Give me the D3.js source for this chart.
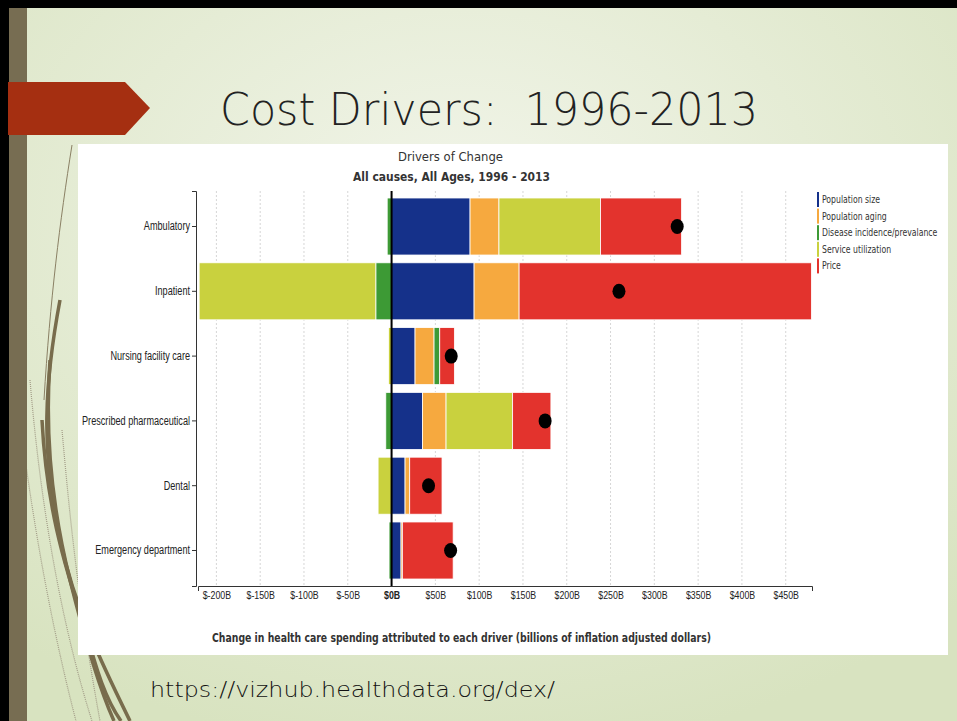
<!DOCTYPE html>
<html>
<head>
<meta charset="utf-8">
<script src="https://cdn.jsdelivr.net/npm/d3@7"></script>
<style>
body { margin: 0; }
</style>
</head>
<body>
<svg width="957" height="721"></svg>
<script>
// values, billions of inflation adjusted dollars
const categories = ['Ambulatory', 'Inpatient', 'Nursing facility care', 'Prescribed pharmaceutical', 'Dental', 'Emergency department']
const drivers = ['Population size', 'Population aging', 'Disease incidence/prevalance', 'Service utilization', 'Price']
const populationSize = [89.6, 94.2, 26.8, 35.2, 15.4, 10.8]
const populationAging = [33, 51.4, 21.7, 27, 5.3, 1.5]
const diseaseIncidence = [-5, -18, 6.5, -6.6, 0, -2.9]
const serviceUtilization = [116, -201.7, -3.6, 76, -15.4, 0]
const price = [92.5, 333.7, 16.7, 43.7, 36.9, 58]
const xTicks = [-200, -150, -100, -50, 0, 50, 100, 150, 200, 250, 300, 350, 400, 450]
const colors = ['#15318a', '#f6a93f', '#3d9a35', '#c9d13e', '#e3332d']

const seriesValues = [populationSize, populationAging, diseaseIncidence, serviceUtilization, price]
const rows = categories.map((c, i) => {
    const row = { category: c }
    drivers.forEach((k, j) => { row[k] = seriesValues[j][i] })
    row.net = d3.sum(drivers, k => row[k])
    return row
})

const svg = d3.select('svg')
const w = +svg.attr('width'), h = +svg.attr('height')

// squeeze text horizontally, the source screenshot is narrower than it is tall
const squeeze = (sel, f) => sel.each(function () {
    const len = this.getComputedTextLength()
    d3.select(this).attr('textLength', len * f).attr('lengthAdjust', 'spacingAndGlyphs')
})

// ---- slide background ----
const defs = svg.append('defs')
const grad = defs.append('radialGradient')
    .attr('id', 'bg').attr('cx', '48%').attr('cy', '30%').attr('r', '75%')
grad.append('stop').attr('offset', '0%').attr('stop-color', '#f2f5ea')
grad.append('stop').attr('offset', '100%').attr('stop-color', '#d8e3c0')

svg.append('rect').attr('width', w).attr('height', h).attr('fill', 'url(#bg)')

// decorative curves down the left side
const curves = svg.append('g').attr('fill', 'none')
curves.selectAll('path.thick')
    .data([
        'M60,300 C45,380 40,450 60,540 C75,610 105,670 130,721',
        'M50,360 C45,430 50,500 70,580 C85,640 100,690 114,721',
        'M42,420 C46,500 62,560 86,630 C96,670 106,700 121,721'
    ])
    .enter().append('path')
    .attr('class', 'thick')
    .attr('d', d => d)
    .attr('stroke', '#786c4c')
    .attr('stroke-width', 3.5)
curves.append('path')
    .attr('d', 'M72,145 C60,220 50,300 44,400')
    .attr('stroke', '#8a8064').attr('stroke-width', 1)
curves.selectAll('path.dots')
    .data([
        'M30,380 C40,500 60,620 92,721',
        'M20,420 C35,540 55,640 76,721',
        'M62,430 C70,520 78,600 100,721'
    ])
    .enter().append('path')
    .attr('class', 'dots')
    .attr('d', d => d)
    .attr('stroke', '#a39d88').attr('stroke-width', 1.2)
    .attr('stroke-dasharray', '1,1')

// frame
svg.append('rect').attr('x', 9).attr('y', 8).attr('width', 18).attr('height', h - 8).attr('fill', '#776d52')
svg.append('rect').attr('x', 0).attr('y', 0).attr('width', w).attr('height', 8).attr('fill', '#000')
svg.append('rect').attr('x', 0).attr('y', 0).attr('width', 9).attr('height', h).attr('fill', '#000')

// red arrow
svg.append('path')
    .attr('d', 'M8,82 H125 L150,108 L125,135 H8 Z')
    .attr('fill', '#a52f11')

const slideFont = '"DejaVu Sans", sans-serif'
svg.append('text')
    .attr('x', 220).attr('y', 125)
    .attr('textLength', 538).attr('lengthAdjust', 'spacingAndGlyphs')
    .style('white-space', 'pre')
    .style('font-family', slideFont).style('font-weight', 200)
    .style('font-size', '44px').attr('fill', '#222')
    .text('Cost Drivers:  1996-2013')

svg.append('text')
    .attr('x', 150).attr('y', 697)
    .attr('textLength', 405).attr('lengthAdjust', 'spacingAndGlyphs')
    .style('font-family', slideFont).style('font-weight', 200)
    .style('font-size', '21px').attr('fill', '#111')
    .text('https://vizhub.healthdata.org/dex/')

// ---- chart panel ----
svg.append('rect')
    .attr('x', 78).attr('y', 144).attr('width', 870).attr('height', 511)
    .attr('fill', '#fff')

const chart = svg.append('g')
const yTop = 191, yBottom = 586

const x = d3.scaleLinear().domain([-221, 480]).range([198, 812])
const y = d3.scaleBand().domain(categories).range([yTop, yBottom])
    .paddingInner(0.12).paddingOuter(0.108)

// gridlines
chart.append('g').selectAll('line')
    .data(xTicks)
    .enter().append('line')
    .attr('x1', d => x(d)).attr('x2', d => x(d))
    .attr('y1', yTop).attr('y2', yBottom)
    .attr('stroke', '#d6d6d6').attr('stroke-dasharray', '2,2')

// stacked bars
const stacked = d3.stack().keys(drivers).offset(d3.stackOffsetDiverging)(rows)
chart.append('g').selectAll('g')
    .data(stacked)
    .enter().append('g')
    .attr('fill', (d, i) => colors[i])
    .selectAll('rect')
    .data(d => d)
    .enter().append('rect')
    .attr('x', d => x(Math.min(d[0], d[1])))
    .attr('width', d => Math.abs(x(d[1]) - x(d[0])))
    .attr('y', d => y(d.data.category))
    .attr('height', y.bandwidth())
    .attr('stroke', '#fff').attr('stroke-width', 0.8)

// zero line
chart.append('line')
    .attr('x1', x(0)).attr('x2', x(0))
    .attr('y1', yTop).attr('y2', yBottom)
    .attr('stroke', '#000').attr('stroke-width', 2)

// net change dots
chart.append('g').selectAll('ellipse')
    .data(rows)
    .enter().append('ellipse')
    .attr('cx', d => x(d.net))
    .attr('cy', d => y(d.category) + y.bandwidth() / 2)
    .attr('rx', 6.5).attr('ry', 7.5)
    .attr('fill', '#000')

// axes
const tickFont = '"Liberation Sans", Arial, sans-serif'

const xAxis = chart.append('g')
    .attr('transform', `translate(0,${yBottom})`)
    .call(d3.axisBottom(x).tickValues(xTicks).tickSize(0).tickSizeOuter(5).tickPadding(5)
        .tickFormat(d => '$' + d + 'B'))
xAxis.selectAll('text')
    .style('font-family', tickFont).style('font-size', '11px').attr('fill', '#222')
    .style('font-weight', d => d === 0 ? 'bold' : 'normal')
    .call(squeeze, 0.8)
xAxis.select('.domain').attr('stroke', '#333')

const yAxis = chart.append('g')
    .attr('transform', 'translate(196,0)')
    .call(d3.axisLeft(y).tickSize(4).tickSizeOuter(4).tickPadding(2))
yAxis.selectAll('text')
    .style('font-family', tickFont).style('font-size', '12px').attr('fill', '#222')
    .call(squeeze, 0.76)
yAxis.selectAll('line, .domain').attr('stroke', '#333')

// titles
const titleFont = '"DejaVu Sans Condensed", "DejaVu Sans", sans-serif'
chart.append('text')
    .attr('x', 450.5).attr('y', 161).attr('text-anchor', 'middle')
    .attr('textLength', 105).attr('lengthAdjust', 'spacingAndGlyphs')
    .style('font-family', titleFont).style('font-size', '13px').attr('fill', '#333')
    .text('Drivers of Change')
chart.append('text')
    .attr('x', 451.5).attr('y', 181).attr('text-anchor', 'middle')
    .attr('textLength', 197).attr('lengthAdjust', 'spacingAndGlyphs')
    .style('font-family', titleFont).style('font-size', '13px').style('font-weight', 'bold')
    .attr('fill', '#333')
    .text('All causes, All Ages, 1996 - 2013')
chart.append('text')
    .attr('x', 212).attr('y', 642)
    .attr('textLength', 499).attr('lengthAdjust', 'spacingAndGlyphs')
    .style('font-family', titleFont).style('font-size', '12px').style('font-weight', 'bold')
    .attr('fill', '#333')
    .text('Change in health care spending attributed to each driver (billions of inflation adjusted dollars)')

// legend
const legend = chart.append('g').attr('transform', 'translate(817,192)')
const items = legend.selectAll('g')
    .data(drivers)
    .enter().append('g')
    .attr('transform', (d, i) => `translate(0,${i * 16.6})`)
items.append('rect')
    .attr('width', 2).attr('height', 15)
    .attr('fill', (d, i) => colors[i])
items.append('text')
    .attr('x', 5).attr('y', 7.5).attr('dy', '0.35em')
    .style('font-family', titleFont).style('font-size', '10px').attr('fill', '#333')
    .text(d => d)
    .call(squeeze, 0.86)
</script>
</body>
</html>
